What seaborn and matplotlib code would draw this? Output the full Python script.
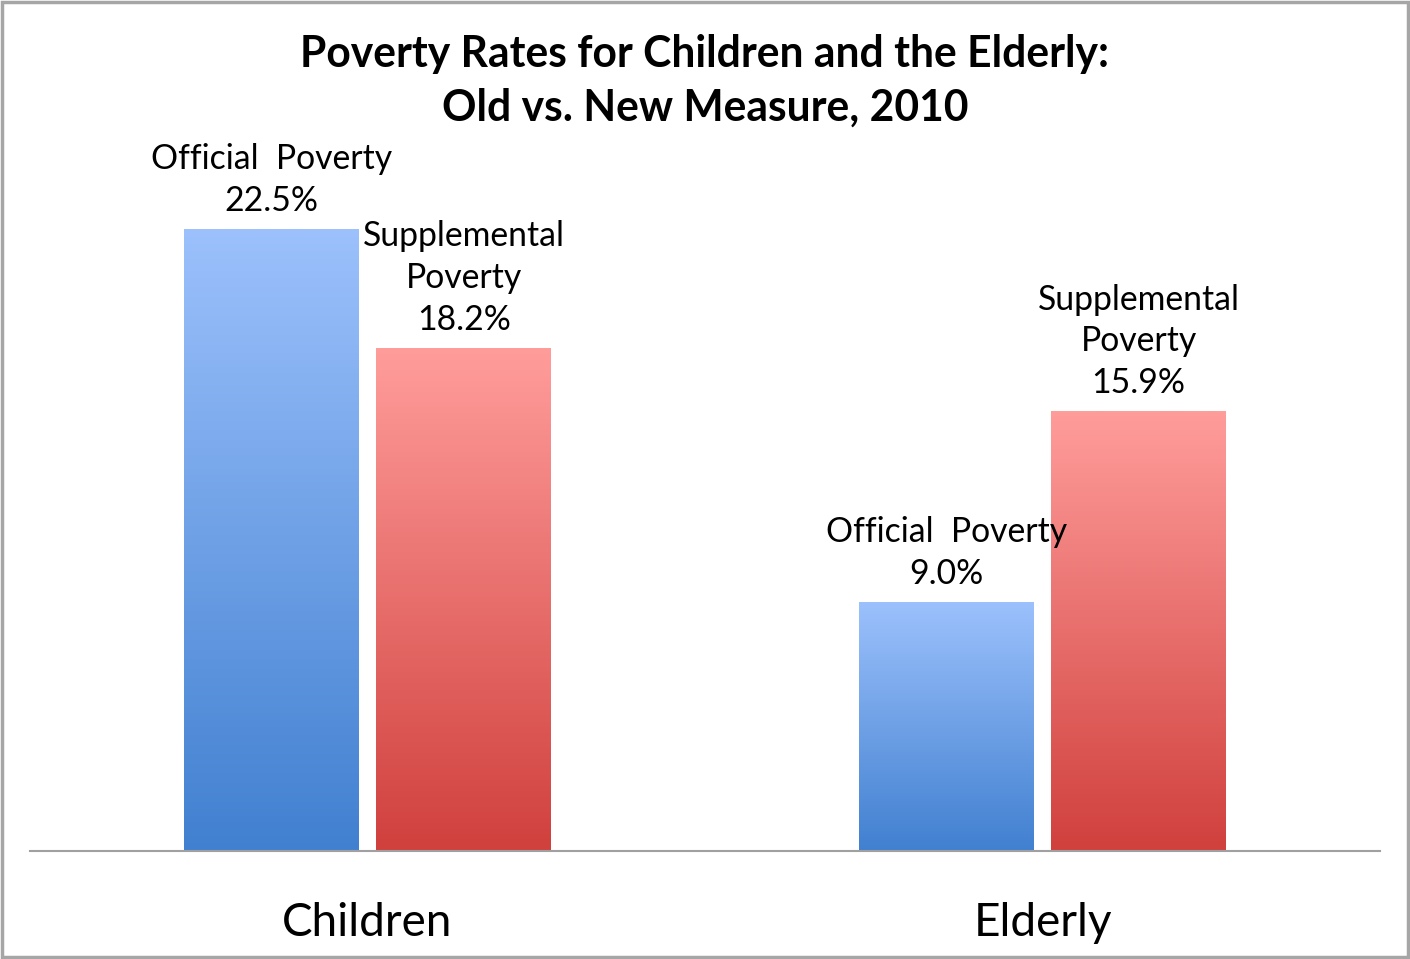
import numpy as np
import pandas as pd
import matplotlib.pyplot as plt
import seaborn as sns
from matplotlib.colors import LinearSegmentedColormap
from matplotlib.patches import Rectangle

# data
groups = ['Children', 'Elderly']
measures = ['Official', 'Supplemental']
official = [22.5, 9.0]
supplemental = [18.2, 15.9]
label_text = {
    'Official': 'Official  Poverty\n{:.1f}%',
    'Supplemental': 'Supplemental\nPoverty\n{:.1f}%',
}

df = pd.DataFrame({
    'group': groups * 2,
    'measure': ['Official'] * 2 + ['Supplemental'] * 2,
    'rate': official + supplemental,
})

sns.set_style('white')
plt.rcParams['font.family'] = ['Lato', 'DejaVu Sans']
plt.rcParams['text.color'] = 'black'
plt.rcParams['xtick.color'] = 'black'

blue_cmap = LinearSegmentedColormap.from_list('blue', ['#4180D0', '#9CC1FC'])
red_cmap = LinearSegmentedColormap.from_list('red', ['#D0403D', '#FF9D9B'])
cmaps = {'Official': blue_cmap, 'Supplemental': red_cmap}

fig = plt.figure(figsize=(14.1, 9.59), dpi=100)
ax = fig.add_axes([30 / 1410, 108 / 959, 1350 / 1410, 721 / 959])

sns.barplot(data=df, x='group', y='rate', hue='measure', order=groups,
            hue_order=measures, palette=['#6FA0E6', '#E87270'],
            width=0.57, gap=0.093, legend=False, ax=ax)

# gradient fill for every bar, plus value labels
grad = np.linspace(0, 1, 256).reshape(-1, 1)
bars = ax.patches[:4]
for k, bar in enumerate(bars):
    m = measures[k // 2]
    val = df['rate'].iloc[k]
    x0, w, h = bar.get_x(), bar.get_width(), bar.get_height()
    ax.imshow(grad, cmap=cmaps[m], origin='lower', aspect='auto',
              extent=[x0, x0 + w, 0, h], zorder=bar.get_zorder() + 0.1)
    bar.set_alpha(0)
    ax.annotate(label_text[m].format(val), xy=(x0 + w / 2, h),
                xytext=(0, 9), textcoords='offset points',
                ha='center', va='bottom', fontsize=24.3, linespacing=1.38)

ax.set_xlim(-0.5, 1.5)
ax.set_ylim(0, 26.1)

ax.set_xlabel('')
ax.set_ylabel('')
ax.set_yticks([])
ax.tick_params(axis='x', length=0, labelsize=33, pad=37)
for s in ['top', 'left', 'right']:
    ax.spines[s].set_visible(False)
ax.spines['bottom'].set_color('#A0A0A0')
ax.spines['bottom'].set_linewidth(1.5)

fig.text(0.5, 1 - 81 / 959, 'Poverty Rates for Children and the Elderly:\nOld vs. New Measure, 2010',
         ha='center', va='center', fontsize=30.7, fontweight='bold', linespacing=1.42)

fig.patches.append(Rectangle((0.0012, 0.0018), 0.9976, 0.9964, transform=fig.transFigure,
                             fill=False, edgecolor='#A6A6A6', linewidth=2.5))

fig.savefig('out.png', dpi=100)
